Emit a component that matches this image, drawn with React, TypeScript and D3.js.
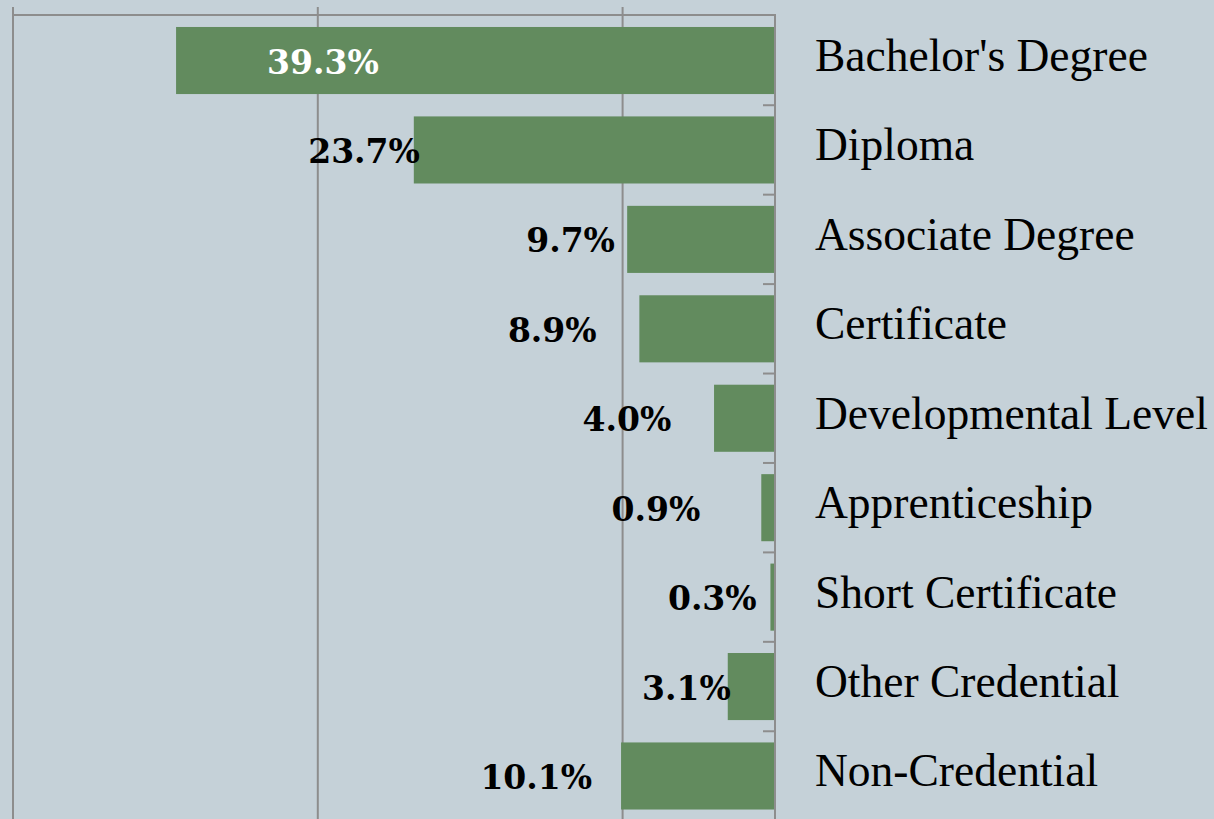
import { useRef, useEffect } from 'react';
import * as d3 from 'd3';

const CATEGORIES = [
  "Bachelor's Degree",
  'Diploma',
  'Associate Degree',
  'Certificate',
  'Developmental Level',
  'Apprenticeship',
  'Short Certificate',
  'Other Credential',
  'Non-Credential',
];
const SHARES = [39.3, 23.7, 9.7, 8.9, 4.0, 0.9, 0.3, 3.1, 10.1];
// where each value label ends, in % units measured from the axis
const LABEL_END = [26.0, 23.3, 10.5, 11.7, 6.8, 4.9, 1.2, 2.9, 12.0];
const GRID_TICKS = [10, 30, 50];

const BG = '#c5d1d8';
const BAR = '#628b5e';
const LINE = '#8d8d8d';
const LABEL_FONT = '"DejaVu Serif", Georgia, serif';
const CAT_FONT = '"Liberation Serif", "Times New Roman", serif';

const W = 1214;
const H = 819;

export default function App() {
  const svgRef = useRef<SVGSVGElement>(null);

  useEffect(() => {
    const svg = d3.select(svgRef.current);
    svg.selectAll('*').remove();

    const axisX = 775;
    const x = d3.scaleLinear().domain([0, 50]).range([axisX, 13]);
    const y = d3.scaleBand<string>()
      .domain(CATEGORIES)
      .range([15.8, 820.7])
      .paddingInner(0.25)
      .paddingOuter(0.125);
    const top = 15;

    svg.append('rect').attr('width', W).attr('height', H).attr('fill', BG);

    // vertical grid lines
    svg.append('g')
      .selectAll('line')
      .data(GRID_TICKS)
      .join('line')
      .attr('x1', d => x(d)).attr('x2', d => x(d))
      .attr('y1', 7).attr('y2', H)
      .attr('stroke', LINE).attr('stroke-width', 2);

    // top frame line
    svg.append('line')
      .attr('x1', x(50)).attr('x2', axisX + 1)
      .attr('y1', top).attr('y2', top)
      .attr('stroke', LINE).attr('stroke-width', 2);

    // bars
    svg.append('g')
      .selectAll('rect')
      .data(SHARES)
      .join('rect')
      .attr('x', d => x(d))
      .attr('y', (_, i) => y(CATEGORIES[i])!)
      .attr('width', d => axisX - x(d))
      .attr('height', y.bandwidth())
      .attr('fill', BAR);

    // axis line with ticks between bands
    svg.append('line')
      .attr('x1', axisX).attr('x2', axisX)
      .attr('y1', top - 1).attr('y2', H)
      .attr('stroke', LINE).attr('stroke-width', 2);

    const gap = y.step() * y.paddingInner() / 2;
    svg.append('g')
      .selectAll('line')
      .data(CATEGORIES.slice(1))
      .join('line')
      .attr('x1', axisX - 12).attr('x2', axisX)
      .attr('y1', d => y(d)! - gap).attr('y2', d => y(d)! - gap)
      .attr('stroke', LINE).attr('stroke-width', 2);

    // value labels
    svg.append('g')
      .selectAll('text')
      .data(SHARES)
      .join('text')
      .attr('x', (_, i) => x(LABEL_END[i]))
      .attr('y', (_, i) => y(CATEGORIES[i])! + y.bandwidth() / 2 + 4)
      .attr('text-anchor', 'end')
      .attr('dominant-baseline', 'middle')
      .attr('font-family', LABEL_FONT)
      .attr('font-weight', 'bold')
      .attr('font-size', 33)
      .attr('fill', (_, i) => (i === 0 ? '#ffffff' : '#000000'))
      .text(d => `${d.toFixed(1)}%`);

    // category labels
    svg.append('g')
      .selectAll('text')
      .data(CATEGORIES)
      .join('text')
      .attr('x', 815)
      .attr('y', d => y(d)! + y.bandwidth() / 2)
      .attr('dominant-baseline', 'middle')
      .attr('font-family', CAT_FONT)
      .attr('font-size', 45.5)
      .attr('fill', '#000')
      .text(d => d);
  }, []);

  return (
    <div style={{ position: 'absolute', left: 0, top: 0 }}>
      <svg ref={svgRef} width={W} height={H} style={{ display: 'block' }} />
    </div>
  );
}
